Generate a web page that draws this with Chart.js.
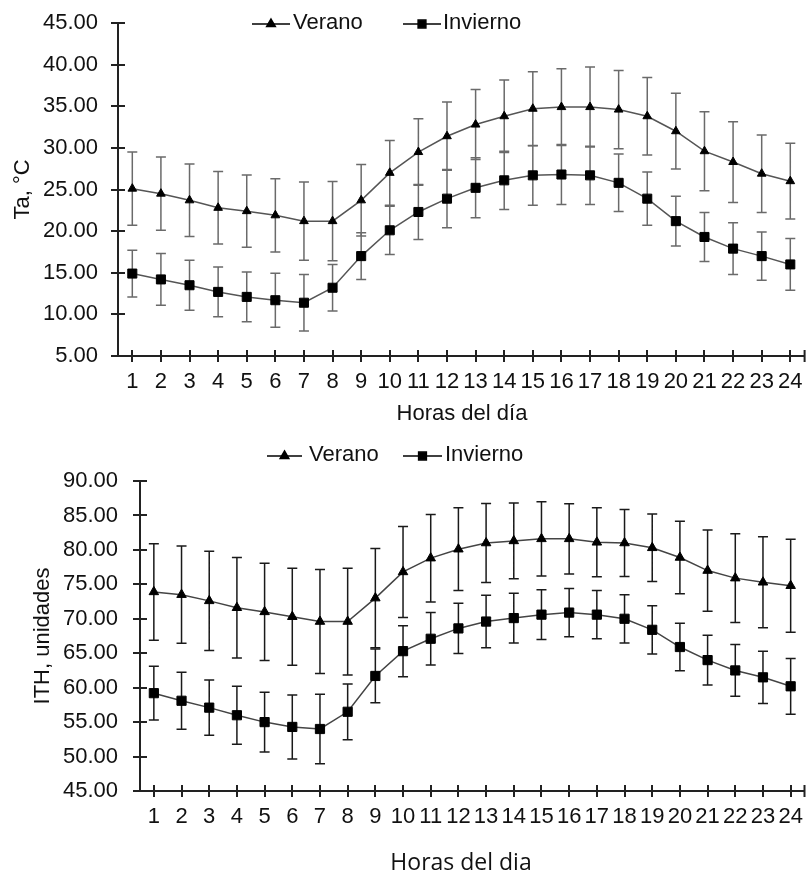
<!DOCTYPE html>
<html>
<head>
<meta charset="utf-8">
<script src="https://cdn.jsdelivr.net/npm/chart.js@4.4.1/dist/chart.umd.min.js"></script>
<style>
  html, body { margin: 0; padding: 0; background: #fff; }
  #wrap { position: relative; width: 812px; height: 877px; }
  canvas { position: absolute; left: 0; }
  #taChart { top: 0; }
  #ithChart { top: 435px; }
</style>
</head>
<body>
<div id="wrap">
  <canvas id="taChart" width="812" height="435" style="width:812px;height:435px"></canvas>
  <canvas id="ithChart" width="812" height="442" style="width:812px;height:442px"></canvas>
</div>
<script>
// hours of the day (category axis)
const horas = ['1','2','3','4','5','6','7','8','9','10','11','12','13','14','15','16','17','18','19','20','21','22','23','24'];

// air temperature, °C (mean and standard deviation)
const taVerano   = [25.1, 24.5, 23.7, 22.8, 22.4, 21.9, 21.2, 21.2, 23.7, 27.0, 29.5, 31.4, 32.8, 33.8, 34.7, 34.9, 34.9, 34.6, 33.8, 32.0, 29.6, 28.3, 26.9, 26.0];
const taVeranoDe = [4.4, 4.4, 4.35, 4.35, 4.35, 4.4, 4.7, 4.75, 4.3, 3.9, 4.0, 4.1, 4.2, 4.35, 4.45, 4.6, 4.8, 4.7, 4.65, 4.55, 4.75, 4.85, 4.65, 4.55];
const taInvierno   = [14.9, 14.2, 13.5, 12.7, 12.1, 11.7, 11.4, 13.2, 17.0, 20.1, 22.3, 23.9, 25.2, 26.1, 26.7, 26.8, 26.7, 25.8, 23.9, 21.2, 19.3, 17.9, 17.0, 16.0];
const taInviernoDe = [2.8, 3.1, 3.0, 3.0, 3.0, 3.25, 3.4, 2.8, 2.8, 2.9, 3.3, 3.5, 3.6, 3.5, 3.6, 3.6, 3.5, 3.45, 3.2, 3.0, 2.95, 3.1, 2.9, 3.1];

// temperature-humidity index (mean and standard deviation)
const ithVerano   = [73.9, 73.5, 72.6, 71.6, 71.0, 70.3, 69.6, 69.6, 73.0, 76.8, 78.8, 80.1, 81.0, 81.3, 81.6, 81.6, 81.1, 81.0, 80.3, 78.9, 77.0, 75.9, 75.3, 74.8];
const ithVeranoDe = [7.0, 7.05, 7.2, 7.3, 7.05, 7.05, 7.55, 7.75, 7.2, 6.6, 6.35, 6.0, 5.75, 5.5, 5.4, 5.1, 5.0, 4.85, 4.9, 5.25, 5.9, 6.45, 6.6, 6.75];
const ithInvierno   = [59.2, 58.1, 57.1, 56.0, 55.0, 54.3, 54.0, 56.5, 61.7, 65.3, 67.1, 68.6, 69.6, 70.1, 70.6, 70.9, 70.6, 70.0, 68.4, 65.9, 64.0, 62.5, 61.5, 60.2];
const ithInviernoDe = [3.9, 4.15, 4.0, 4.2, 4.35, 4.65, 5.05, 4.05, 3.9, 3.7, 3.8, 3.65, 3.8, 3.6, 3.6, 3.5, 3.5, 3.5, 3.5, 3.45, 3.6, 3.75, 3.8, 4.05];

const INK = '#111';
const SANS = '"Liberation Sans", Arial, sans-serif';

// vertical whiskers (mean ± sd), drawn under the lines
const errorBars = {
  id: 'errorBars',
  beforeDatasetsDraw(chart, args, opts) {
    const { ctx, scales: { y } } = chart;
    ctx.save();
    ctx.strokeStyle = opts.color;
    ctx.lineWidth = opts.width;
    chart.data.datasets.forEach((ds, di) => {
      const meta = chart.getDatasetMeta(di);
      ctx.beginPath();
      meta.data.forEach((pt, i) => {
        const hi = y.getPixelForValue(ds.data[i] + ds.desv[i]);
        const lo = y.getPixelForValue(ds.data[i] - ds.desv[i]);
        ctx.moveTo(pt.x, hi); ctx.lineTo(pt.x, lo);
        ctx.moveTo(pt.x - opts.cap, hi); ctx.lineTo(pt.x + opts.cap, hi);
        ctx.moveTo(pt.x - opts.cap, lo); ctx.lineTo(pt.x + opts.cap, lo);
      });
      ctx.stroke();
    });
    ctx.restore();
  }
};

// tick marks crossing both axes
const axisMarks = {
  id: 'axisMarks',
  afterDraw(chart, args, opts) {
    const { ctx, chartArea: a, scales: { x, y } } = chart;
    ctx.save();
    ctx.strokeStyle = '#222';
    ctx.lineWidth = 2;
    ctx.beginPath();
    y.ticks.forEach(t => {
      const py = Math.round(y.getPixelForValue(t.value));
      ctx.moveTo(a.left - opts.y, py); ctx.lineTo(a.left + opts.y, py);
    });
    x.ticks.forEach((t, i) => {
      const px = Math.round(x.getPixelForTick(i));
      ctx.moveTo(px, a.bottom - opts.x); ctx.lineTo(px, a.bottom + opts.x);
    });
    ctx.moveTo(a.right, a.bottom - opts.x); ctx.lineTo(a.right, a.bottom + opts.x);
    ctx.stroke();
    ctx.restore();
  }
};

// legend (short line with the marker in the middle, then the text) and x caption
const seriesKey = {
  id: 'seriesKey',
  afterDraw(chart, args, opts) {
    const { ctx } = chart;
    ctx.save();
    ctx.font = '22px ' + SANS;
    ctx.textBaseline = 'middle';
    opts.items.forEach((it, i) => {
      const ds = chart.data.datasets[i];
      ctx.strokeStyle = '#000';
      ctx.lineWidth = 1.5;
      ctx.beginPath();
      ctx.moveTo(it.x0, opts.y + 1); ctx.lineTo(it.x1, opts.y + 1);
      ctx.stroke();
      ctx.fillStyle = '#000';
      Chart.helpers.drawPoint(ctx, {
        pointStyle: ds.pointStyle, radius: it.r, rotation: 0, borderWidth: 1
      }, (it.x0 + it.x1) / 2, opts.y + 1);
      ctx.fillStyle = INK;
      ctx.fillText(ds.label, it.tx, opts.y);
    });
    const c = opts.caption;
    ctx.font = c.font;
    ctx.textAlign = 'center';
    ctx.fillStyle = INK;
    ctx.fillText(c.text, c.x, c.y);
    ctx.restore();
  }
};

function buildChart(id, o) {
  const base = {
    tension: 0, borderWidth: 1.5, borderColor: o.lineColor,
    pointBackgroundColor: '#000', pointBorderColor: '#000', pointBorderWidth: 1
  };
  return new Chart(document.getElementById(id), {
    type: 'line',
    data: {
      labels: horas,
      datasets: [
        Object.assign({ label: 'Verano', data: o.verano, desv: o.veranoDe, pointStyle: 'triangle', pointRadius: o.triR }, base),
        Object.assign({ label: 'Invierno', data: o.invierno, desv: o.inviernoDe, pointStyle: 'rect', pointRadius: o.rectR }, base)
      ]
    },
    options: {
      responsive: false,
      animation: false,
      devicePixelRatio: 1,
      layout: { padding: o.pad },
      plugins: {
        legend: { display: false },
        tooltip: { enabled: false },
        errorBars: { color: o.errColor, width: 1.5, cap: 5 },
        axisMarks: { x: 6, y: 7 },
        seriesKey: o.key
      },
      scales: {
        x: {
          type: 'category',
          offset: true,
          grid: { drawOnChartArea: false, color: 'transparent', tickLength: 13 },
          border: { color: '#222', width: 2 },
          ticks: { autoSkip: false, maxRotation: 0, padding: 0, color: INK, font: { family: SANS, size: 22 } },
          afterFit: s => { s.height = o.xH; }
        },
        y: {
          min: o.yMin, max: o.yMax,
          grid: { drawOnChartArea: false, color: 'transparent', tickLength: o.yPad },
          border: { color: '#222', width: 2 },
          ticks: { stepSize: 5, padding: 0, color: INK, font: { family: SANS, size: 22 }, callback: v => v.toFixed(2) },
          title: { display: true, text: o.yTitle, color: INK, font: { family: SANS, size: 22 }, padding: { top: o.yTitlePad, bottom: 0 } },
          afterFit: s => { s.width = o.yW; }
        }
      }
    },
    plugins: [errorBars, axisMarks, seriesKey]
  });
}

buildChart('taChart', {
  verano: taVerano, veranoDe: taVeranoDe, invierno: taInvierno, inviernoDe: taInviernoDe,
  triR: 5, rectR: 6.4, lineColor: '#555', errColor: '#6a6a6a',
  pad: { top: 23, right: 5, left: 0, bottom: 0 },
  yMin: 5, yMax: 45, yW: 118, yPad: 20, yTitle: 'Ta, °C', yTitlePad: 10,
  xH: 79,
  key: {
    y: 23,
    items: [ { x0: 252, x1: 290, tx: 293, r: 5 }, { x0: 403, x1: 441, tx: 443, r: 5.5 } ],
    caption: { text: 'Horas del día', x: 462, y: 414, font: '22px ' + SANS }
  }
});

buildChart('ithChart', {
  verano: ithVerano, veranoDe: ithVeranoDe, invierno: ithInvierno, inviernoDe: ithInviernoDe,
  triR: 5.5, rectR: 6.5, lineColor: '#444', errColor: '#1a1a1a',
  pad: { top: 46, right: 3, left: 0, bottom: 0 },
  yMin: 45, yMax: 90, yW: 140, yPad: 22, yTitle: 'ITH, unidades', yTitlePad: 30,
  xH: 86,
  key: {
    y: 20,
    items: [ { x0: 267, x1: 302, tx: 309, r: 5 }, { x0: 403, x1: 442, tx: 445, r: 5.5 } ],
    caption: { text: 'Horas del dia', x: 461, y: 428, font: '23px "Open Sans", sans-serif' }
  }
});
</script>
</body>
</html>
